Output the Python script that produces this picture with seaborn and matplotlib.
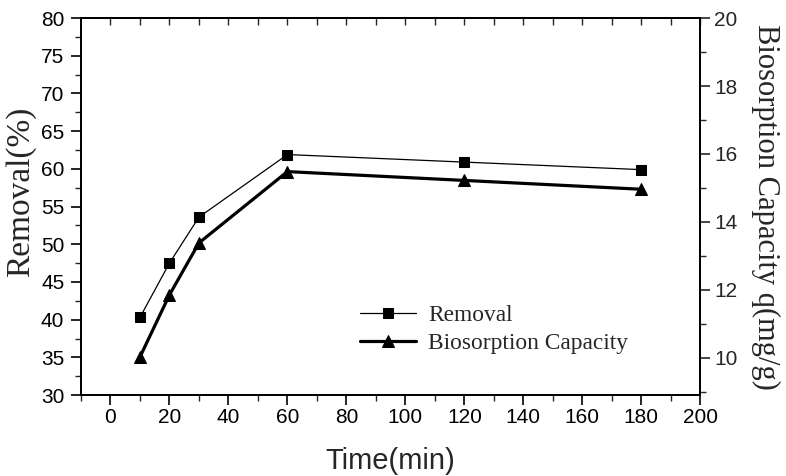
import matplotlib
matplotlib.use("Agg")
import matplotlib.pyplot as plt
import numpy as np
import pandas as pd
import seaborn as sns
from matplotlib.ticker import MultipleLocator

# 数据
time_min = [10, 20, 30, 60, 120, 180]
removal = [40.3, 47.5, 53.6, 61.9, 60.9, 59.9]
capacity = [10.02, 11.85, 13.38, 15.48, 15.22, 14.96]

x_ticks = [0, 20, 40, 60, 80, 100, 120, 140, 160, 180, 200]
y_left_ticks = [30, 35, 40, 45, 50, 55, 60, 65, 70, 75, 80]
y_right_ticks = [10, 12, 14, 16, 18, 20]

df = pd.DataFrame({"time": time_min, "removal": removal, "capacity": capacity})

sns.set_style("ticks")
plt.rcParams["font.family"] = ["Liberation Sans", "DejaVu Sans"]
serif = ["Liberation Serif", "DejaVu Serif"]

fig = plt.figure(figsize=(7.86, 4.76), dpi=100)
ax = fig.add_axes([0.103, 0.170, 0.788, 0.792])
ax2 = ax.twinx()

sns.lineplot(data=df, x="time", y="removal", ax=ax, color="black", linewidth=0.9,
             marker="s", markersize=6.5, markeredgecolor="black", label="Removal", legend=False)
sns.lineplot(data=df, x="time", y="capacity", ax=ax2, color="black", linewidth=2.3,
             marker="^", markersize=9, markeredgecolor="black", label="Biosorption Capacity", legend=False)

ax.set_xlim(-10, 200)
ax.set_ylim(30, 80)
ax2.set_ylim(8.9, 20)

ax.set_xticks(x_ticks)
ax.set_yticks(y_left_ticks)
ax2.set_yticks(y_right_ticks)
ax.xaxis.set_minor_locator(MultipleLocator(10))
ax.yaxis.set_minor_locator(MultipleLocator(2.5))
ax2.yaxis.set_minor_locator(MultipleLocator(1))

for a in (ax, ax2):
    for s in a.spines.values():
        s.set_linewidth(1.3)
        s.set_color("black")
        s.set_visible(True)

ax.tick_params(axis="both", which="major", direction="out", length=7, width=1.2, labelsize=15, colors="black")
ax.tick_params(axis="both", which="minor", direction="out", length=4, width=1.0)
ax.tick_params(axis="y", which="major", pad=5)
ax.tick_params(axis="x", which="major", pad=2)
ax2.tick_params(axis="y", which="major", direction="out", length=7, width=1.2, labelsize=15, pad=3)
ax2.tick_params(axis="y", which="minor", direction="out", length=4, width=1.0)

# 顶部刻度朝内
top = ax.secondary_xaxis("top")
top.set_xticks(np.arange(0, 201, 10))
top.tick_params(direction="in", length=5, width=1.0, labeltop=False)
top.spines["top"].set_linewidth(1.3)

ax.set_xlabel("Time(min)", fontsize=21, labelpad=15)
ax.set_ylabel("Removal(%)", fontsize=24, family=serif)
ax.yaxis.set_label_coords(-0.073, 0.54)
ax2.set_ylabel("Biosorption Capacity q(mg/g)", fontsize=22, family=serif,
               rotation=270, va="bottom", labelpad=10)

h1, l1 = ax.get_legend_handles_labels()
h2, l2 = ax2.get_legend_handles_labels()
ax2.legend(h1 + h2, l1 + l2, loc="upper left", bbox_to_anchor=(0.451, 0.24),
           frameon=False, prop={"family": serif, "size": 16.8}, handlelength=2.4,
           handletextpad=0.5, labelspacing=0.3, borderpad=0, borderaxespad=0)

fig.savefig("out.png", dpi=100)
